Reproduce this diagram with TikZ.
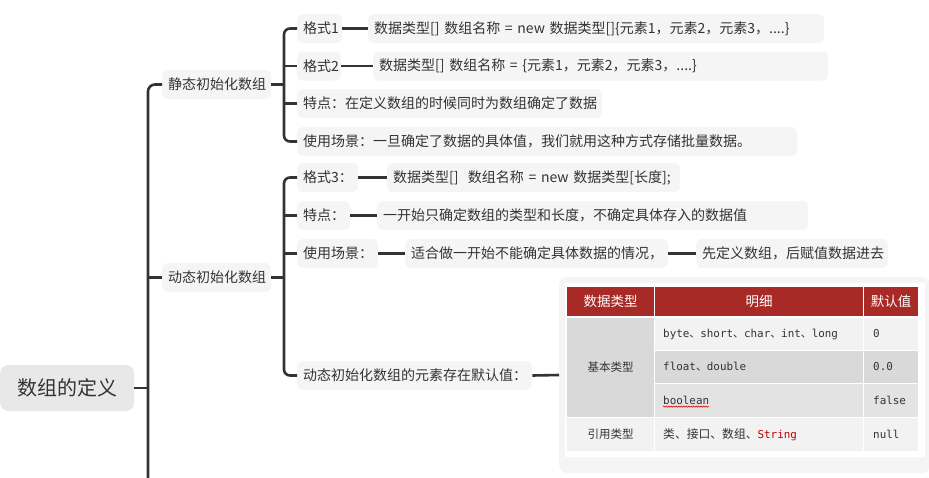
\documentclass[tikz,border=0pt]{standalone}
\usepackage{fontspec}
\setmainfont{Noto Sans CJK SC}
\setmonofont{DejaVu Sans Mono}
\usetikzlibrary{decorations.pathmorphing}
\definecolor{ink}{HTML}{333333}
\definecolor{nodefill}{HTML}{F5F5F5}
\definecolor{rootfill}{HTML}{E8E8E8}
\definecolor{hdr}{HTML}{A82A27}
\definecolor{cellA}{HTML}{F2F2F2}
\definecolor{cellB}{HTML}{D9D9D9}
\definecolor{cellC}{HTML}{E3E3E3}
\definecolor{codered}{HTML}{C00000}
\begin{document}
\begin{tikzpicture}[x=1pt,y=1pt,
  box/.style={fill=nodefill, rounded corners=6pt, text=ink,
    font=\fontsize{14}{16}\selectfont, minimum height=29pt, inner xsep=6pt,
    inner ysep=0pt, anchor=west, align=left},
  rootbox/.style={fill=rootfill, rounded corners=8pt, text=ink,
    font=\fontsize{20}{24}\selectfont, minimum height=46pt, inner sep=0pt, anchor=west},
  conn/.style={draw=ink, line width=2.6pt},
  hcell/.style={text=white, font=\fontsize{13.5}{16}\selectfont, inner sep=0pt},
  tcell/.style={text=ink, font=\fontsize{11.5}{14}\selectfont, inner sep=0pt},
  ccell/.style={text=ink, font=\fontsize{10.9}{13}\selectfont, inner sep=0pt, anchor=west},
]
\useasboundingbox (0,0) rectangle (929,-477);

% nodes
\node[rootbox, minimum width=134pt] (root) at (0,-388) {数组的定义};
\node[box, text width=97pt] (st) at (162,-84.5) {静态初始化数组};
\node[box, text width=97pt] (dy) at (162,-277.5) {动态初始化数组};

\node[box, text width=33pt] (f1) at (297,-28.5) {格式1};
\node[box, text width=444pt] (v1) at (368,-28.5) {数据类型[] 数组名称 = new 数据类型[]\{元素1，元素2，元素3，....\}};
\node[box, text width=32pt] (f2) at (297,-66) {格式2};
\node[box, text width=443pt] (v2) at (373,-66) {数据类型[] 数组名称 = \{元素1，元素2，元素3，....\}};
\node[box, text width=293pt] (td) at (297,-103.5) {特点：在定义数组的时候同时为数组确定了数据};
\node[box, text width=488pt] (use) at (297,-141.5) {使用场景：一旦确定了数据的具体值，我们就用这种方式存储批量数据。};

\node[box, text width=49pt] (f3) at (297,-177.5) {格式3：};
\node[box, text width=281pt] (v3) at (387,-177.5) {数据类型[]\ \ 数组名称 = new 数据类型[长度];};
\node[box, text width=41pt] (td2) at (297,-215.5) {特点：};
\node[box, text width=419pt] (v4) at (377,-215.5) {一开始只确定数组的类型和长度，不确定具体存入的数据值};
\node[box, text width=69pt] (use2) at (297,-253.5) {使用场景：};
\node[box, text width=251pt] (v5) at (405,-253.5) {适合做一开始不能确定具体数据的情况，};
\node[box, text width=180pt] (v6) at (696,-253.5) {先定义数组，后赋值数据进去};
\node[box, text width=223pt] (dflt) at (297,-375.5) {动态初始化数组的元素存在默认值：};

% table frame
\node[fill=nodefill, rounded corners=8pt, minimum width=371pt, minimum height=196pt,
  inner sep=0pt, anchor=west] (tbl) at (559,-375) {};
\fill[white] (565,-283) rectangle (925,-457);

% connectors
\coordinate (trunk) at (148,-478);
\coordinate (sx) at (284,0);
\draw[conn, rounded corners=7pt] (st.west) -| (trunk);
\draw[conn] (root.east) -- (root.east -| trunk);
\draw[conn] (dy.west) -- (dy.west -| trunk);

\draw[conn] (st.east) -- (st.east -| sx);
\draw[conn, rounded corners=6pt] (f1.west) -| (sx |- use.west) -- (use.west);
\draw[conn] (f2.west) -- (f2.west -| sx);
\draw[conn] (td.west) -- (td.west -| sx);
\draw[conn] (f1.east) -- (v1.west);
\draw[conn] (f2.east) -- (v2.west);

\draw[conn] (dy.east) -- (dy.east -| sx);
\draw[conn, rounded corners=6pt] (f3.west) -| (sx |- dflt.west) -- (dflt.west);
\draw[conn] (td2.west) -- (td2.west -| sx);
\draw[conn] (use2.west) -- (use2.west -| sx);
\draw[conn] (f3.east) -- (v3.west);
\draw[conn] (td2.east) -- (v4.west);
\draw[conn] (use2.east) -- (v5.west);
\draw[conn] (v5.east) -- (v6.west);
\draw[conn] (dflt.east) -- (tbl.west);

% table
\fill[hdr] (567,-287) rectangle (918,-316);
\draw[white, line width=1.2pt] (654.5,-287) -- (654.5,-316) (863.5,-287) -- (863.5,-316);
\fill[cellB] (567,-318) rectangle (654,-417);
\fill[cellA] (567,-418) rectangle (654,-451);
\fill[cellA] (655,-318) rectangle (863,-350);
\fill[cellA] (864,-318) rectangle (918,-350);
\fill[cellB] (655,-351) rectangle (863,-383);
\fill[cellB] (864,-351) rectangle (918,-383);
\fill[cellC] (655,-384) rectangle (863,-417);
\fill[cellC] (864,-384) rectangle (918,-417);
\fill[cellA] (655,-418) rectangle (863,-451);
\fill[cellA] (864,-418) rectangle (918,-451);

\node[hcell] (h1) at (610.5,-301.5) {数据类型};
\node[hcell] (h2) at (759,-301.5) {明细};
\node[hcell] (h3) at (891,-301.5) {默认值};

\node[tcell] (basic) at (610.5,-367.5) {基本类型};
\node[tcell] (refT) at (610.5,-434.5) {引用类型};

\node[ccell] (d1) at (663,-334) {\texttt{byte}、\texttt{short}、\texttt{char}、\texttt{int}、\texttt{long}};
\node[ccell] (d2) at (663,-367) {\texttt{float}、\texttt{double}};
\node[ccell] (d3) at (663,-400.5) {\texttt{boolean}};
\node[ccell, font=\fontsize{11.8}{13}\selectfont] (d4) at (663,-434.5) {类、接口、数组、\textcolor{codered}{\fontsize{10.9}{13}\selectfont\texttt{String}}};
\node[ccell] (e1) at (873,-334) {\texttt{0}};
\node[ccell] (e2) at (873,-367) {\texttt{0.0}};
\node[ccell] (e3) at (873,-400.5) {\texttt{false}};
\node[ccell] (e4) at (873,-434.5) {\texttt{null}};
\draw[red!80!black, line width=0.5pt, decorate,
  decoration={snake, amplitude=0.6pt, segment length=2.5pt}]
  ([yshift=-2pt]d3.base west) -- ([yshift=-2pt]d3.base east);
\end{tikzpicture}
\end{document}
